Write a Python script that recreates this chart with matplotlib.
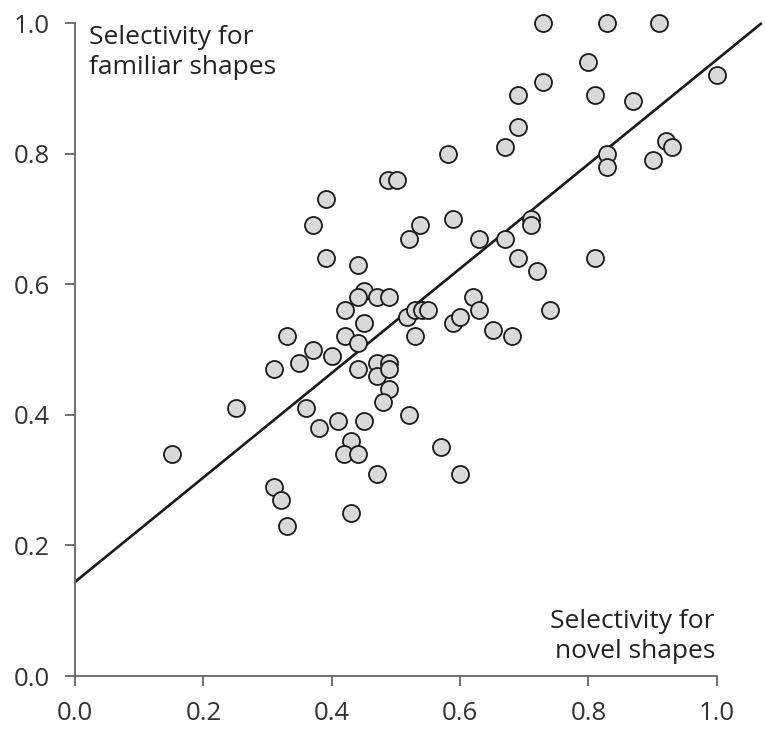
import numpy as np
import matplotlib.pyplot as plt

plt.rcParams['font.family'] = ['Open Sans', 'DejaVu Sans']

# selectivity values
novel = [0.729, 0.829, 0.910, 0.799, 0.729, 0.690, 0.810, 0.869, 1.000, 0.690,
         0.670, 0.581, 0.488, 0.502, 0.829, 0.829, 0.921, 0.930, 0.900, 0.391,
         0.371, 0.391, 0.441, 0.520, 0.537, 0.589, 0.629, 0.670, 0.710, 0.710,
         0.690, 0.720, 0.810, 0.620, 0.629, 0.589, 0.600, 0.651, 0.681, 0.740,
         0.530, 0.517, 0.530, 0.540, 0.550, 0.450, 0.441, 0.470, 0.489, 0.420,
         0.450, 0.330, 0.420, 0.441, 0.371, 0.400, 0.349, 0.310, 0.441, 0.470,
         0.489, 0.470, 0.489, 0.489, 0.480, 0.520, 0.251, 0.151, 0.360, 0.380,
         0.410, 0.450, 0.430, 0.419, 0.441, 0.470, 0.310, 0.321, 0.330, 0.430,
         0.570, 0.600]
familiar = [1.00, 1.00, 1.00, 0.94, 0.91, 0.89, 0.89, 0.88, 0.92, 0.84,
            0.81, 0.80, 0.76, 0.76, 0.80, 0.78, 0.82, 0.81, 0.79, 0.73,
            0.69, 0.64, 0.63, 0.67, 0.69, 0.70, 0.67, 0.67, 0.70, 0.69,
            0.64, 0.62, 0.64, 0.58, 0.56, 0.54, 0.55, 0.53, 0.52, 0.56,
            0.52, 0.55, 0.56, 0.56, 0.56, 0.59, 0.58, 0.58, 0.58, 0.56,
            0.54, 0.52, 0.52, 0.51, 0.50, 0.49, 0.48, 0.47, 0.47, 0.48,
            0.48, 0.46, 0.47, 0.44, 0.42, 0.40, 0.41, 0.34, 0.41, 0.38,
            0.39, 0.39, 0.36, 0.34, 0.34, 0.31, 0.29, 0.27, 0.23, 0.25,
            0.35, 0.31]

# regression line
fit_intercept = 0.144
fit_slope = 0.80
fit_x = [0.0, 1.07]

ticks = [0.0, 0.2, 0.4, 0.6, 0.8, 1.0]

fig = plt.figure(figsize=(7.65, 7.29), dpi=100)
ax = fig.add_axes([0.098, 0.0727, 0.902, 0.9226])

fx = np.array(fit_x)
ax.plot(fx, fit_intercept + fit_slope * fx, color='#1a1a1a', lw=1.9,
        solid_capstyle='butt', zorder=2, clip_on=False)
ax.scatter(novel, familiar, s=150, facecolor='#d9d9d9', edgecolor='#1a1a1a',
           linewidth=1.3, zorder=3, clip_on=False)

ax.set_xlim(0, 1.075)
ax.set_ylim(0, 1.03)
ax.spines['top'].set_visible(False)
ax.spines['right'].set_visible(False)
ax.spines['bottom'].set_bounds(0, 1)
ax.spines['left'].set_bounds(0, 1)
for s in ('bottom', 'left'):
    ax.spines[s].set_color('#666666')
    ax.spines[s].set_linewidth(1.3)

ax.set_xticks(ticks)
ax.set_yticks(ticks)
ax.set_xticklabels(['%.1f' % t for t in ticks])
ax.set_yticklabels(['%.1f' % t for t in ticks])
ax.tick_params(direction='out', length=7, width=1.3, color='#666666',
               labelsize=18.5, labelcolor='#333333')
ax.tick_params(axis='x', pad=11)
ax.tick_params(axis='y', pad=11)

ax.text(0.022, 0.997, 'Selectivity for\nfamiliar shapes', fontsize=19,
        color='#222222', ha='left', va='top', linespacing=1.28)
ax.text(0.997, 0.018, 'Selectivity for\nnovel shapes', fontsize=19,
        color='#222222', ha='right', va='bottom', linespacing=1.28)

fig.savefig('out.png', dpi=100)
